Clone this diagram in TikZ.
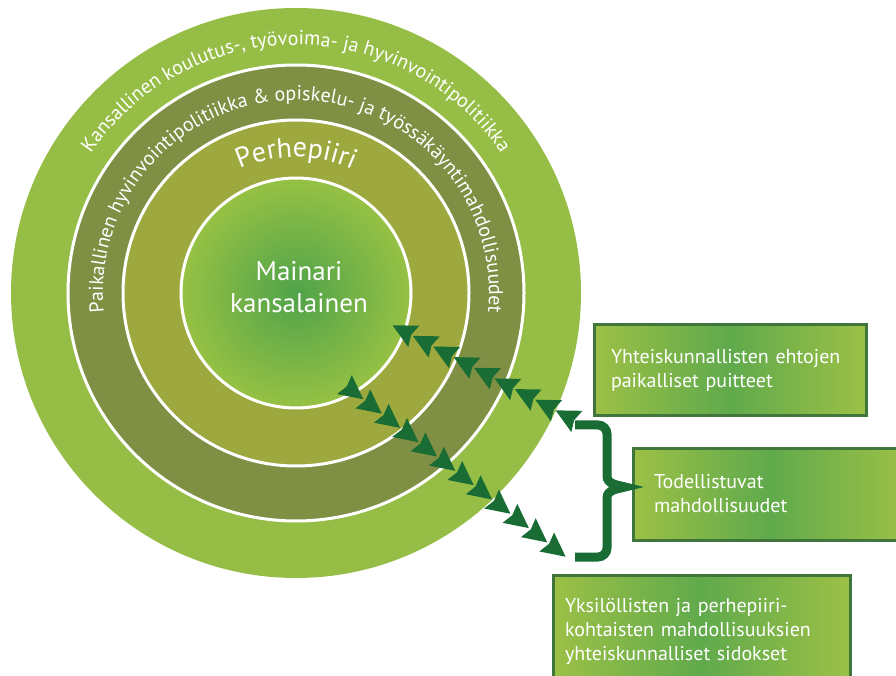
\documentclass[tikz,border=0pt]{standalone}
\usepackage{fontspec}
\setmainfont{PT Sans}
\usetikzlibrary{decorations.markings,decorations.text}

\definecolor{ringout}{RGB}{150,190,70}
\definecolor{ringmid}{RGB}{127,143,68}
\definecolor{ringfam}{RGB}{157,168,62}
\definecolor{coreedge}{RGB}{150,193,68}
\definecolor{corecenter}{RGB}{80,163,74}
\definecolor{boxline}{RGB}{64,118,60}
\definecolor{boxlight}{RGB}{156,192,70}
\definecolor{boxdark}{RGB}{96,170,76}
\definecolor{darkgreen}{RGB}{24,108,52}

\tikzset{
every picture/.style={
line width=1pt
}}

\begin{document}
\begin{tikzpicture}[x=1pt, y=1pt,
infobox/.style = {rectangle, draw=boxline, line width=3pt, left color=boxlight, right color=boxlight, middle color=boxdark, text=white, align=left, inner sep=0pt, font=\fontsize{20}{24}\selectfont},
ringtext/.style = {decorate, decoration={text along path, text align=center, text color=white, text={#1}}},
arrowchain/.style = {postaction={decorate}, decoration={markings, mark=between positions #1 and 1 step #1 with {\fill [darkgreen] (0,0) -- (-24,12) -- (-21,0) -- (-24,-12) -- cycle;}}}]

\clip (0,0) rectangle (896,675);

\begin{scope}[shift={(296,382)}]
\fill [ringout] (0,0) circle (285);
\draw [white, line width=3pt, fill=ringmid] (0,0) circle (228);
\draw [white, line width=3pt, fill=ringfam] (0,0) circle (173);
\draw [white, line width=3pt, inner color=corecenter, outer color=coreedge] (0,0) circle (115);

\path [ringtext={|\fontsize{20}{22}\selectfont|Kansallinen koulutus-, työvoima- ja hyvinvointipolitiikka}]
({155}:248) arc ({155}:{25}:248);
\path [ringtext={|\fontsize{20}{22}\selectfont|Paikallinen hyvinvointipolitiikka {\&} opiskelu- ja työssäkäyntimahdollisuudet}]
({190}:193) arc ({190}:{-10}:193);
\path [ringtext={|\fontsize{28}{30}\selectfont|Perhepiiri}]
({125}:136) arc ({125}:{55}:136);

\node [text=white, align=center, font=\fontsize{27}{32}\selectfont] (citizen) at (3,6) {Mainari\\kansalainen};

\coordinate (coreA) at (96,-32);
\coordinate (coreB) at (49,-92);
\end{scope}

\node [infobox, minimum width=272pt, minimum height=91pt, text width=238pt] (localbox) at (730,304.5) {Yhteiskunnallisten ehtojen\\paikalliset puitteet};
\node [infobox, minimum width=273pt, minimum height=92pt, text width=231pt] (realbox) at (769.5,181) {Todellistuvat\\mahdollisuudet};
\node [infobox, minimum width=297pt, minimum height=112pt, text width=273pt] (bondbox) at (701.5,44) {Yksilöllisten ja perhepiiri-\\kohtaisten mahdollisuuksien\\yhteiskunnalliset sidokset};

% brace
\draw [darkgreen, line width=9pt] (575,250) -- (598,250) to[out=0,in=90] (607,241) -- (607,199)
to[out=-90,in=165] (625,188) to[out=195,in=90] (607,177) -- (607,127) to[out=-90,in=0] (598,118) -- (575,118);

\coordinate (braceTop) at (576,254);
\coordinate (braceBot) at (566,118);

\path [arrowchain=23pt] (braceTop) -- (coreA);
\path [arrowchain=23.3pt] (coreB) -- (braceBot);

\end{tikzpicture}
\end{document}
